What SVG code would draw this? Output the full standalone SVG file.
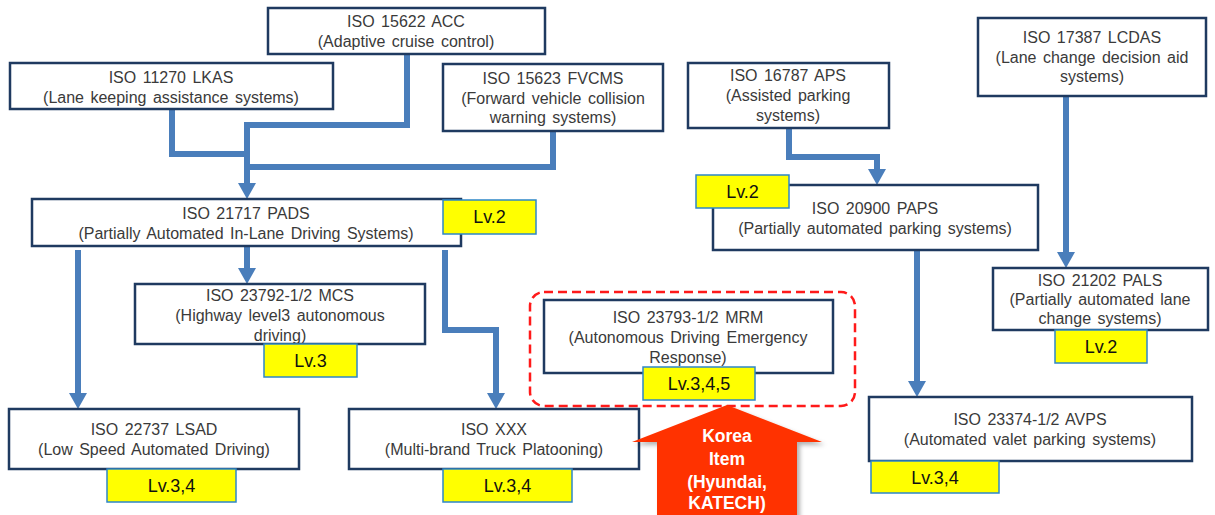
<svg xmlns="http://www.w3.org/2000/svg" width="1215" height="515" viewBox="0 0 1215 515">
  <style>
    .box { fill: #ffffff; stroke: #1f3a60; stroke-width: 2.5; }
    .lv { fill: #ffff00; stroke: #2e86c8; stroke-width: 1.5; }
    .t { font-family: "Liberation Sans", Arial, sans-serif; font-size: 16px; word-spacing: 2px; fill: #3a3a3a; text-anchor: middle; }
    .lvt { font-family: "Liberation Sans", Arial, sans-serif; font-size: 18px; fill: #111111; text-anchor: middle; }
    .wire { fill: none; stroke: #4a7ebb; stroke-width: 6; stroke-linejoin: miter; }
    .kt { font-family: "Liberation Sans", Arial, sans-serif; font-size: 17.5px; font-weight: bold; fill: #ffffff; text-anchor: middle; }
  </style>
  <defs>
    <marker id="head" markerUnits="userSpaceOnUse" markerWidth="16" markerHeight="18" viewBox="0 0 16 18" refX="0" refY="9" orient="auto">
      <path d="M0,0 L16,9 L0,18 z" fill="#4a7ebb"/>
    </marker>
    <filter id="shadow" x="-10%" y="-10%" width="130%" height="130%">
      <feDropShadow dx="3" dy="3" stdDeviation="2" flood-color="#000000" flood-opacity="0.3"/>
    </filter>
  </defs>
  <rect width="1215" height="515" fill="#ffffff"/>

  <!-- connectors -->
  <g id="connectors">
    <path class="wire" d="M407,54 V125 H247 V183" marker-end="url(#head)"/>
    <path class="wire" d="M172,109 V154 H247"/>
    <path class="wire" d="M553,131 V167 H247"/>
    <path class="wire" d="M78,250 V393" marker-end="url(#head)"/>
    <path class="wire" d="M247,246 V268" marker-end="url(#head)"/>
    <path class="wire" d="M445,250 V330 H496 V393" marker-end="url(#head)"/>
    <path class="wire" d="M789,128 V157 H877 V169" marker-end="url(#head)"/>
    <path class="wire" d="M917,250 V381" marker-end="url(#head)"/>
    <path class="wire" d="M1066,96 V252" marker-end="url(#head)"/>
  </g>

  <g id="acc">
    <rect class="box" x="268" y="8" width="277" height="46"/>
    <text class="t" x="406" y="27">ISO 15622 ACC</text>
    <text class="t" x="406" y="47">(Adaptive cruise control)</text>
  </g>

  <g id="lkas">
    <rect class="box" x="10" y="63" width="323" height="46"/>
    <text class="t" x="171" y="83">ISO 11270 LKAS</text>
    <text class="t" x="171" y="103">(Lane keeping assistance systems)</text>
  </g>

  <g id="fvcms">
    <rect class="box" x="443" y="64" width="220" height="67"/>
    <text class="t" x="553" y="84">ISO 15623 FVCMS</text>
    <text class="t" x="553" y="104">(Forward vehicle collision</text>
    <text class="t" x="553" y="123">warning systems)</text>
  </g>

  <g id="aps">
    <rect class="box" x="688" y="63" width="201" height="65"/>
    <text class="t" x="788" y="81">ISO 16787 APS</text>
    <text class="t" x="788" y="101">(Assisted parking</text>
    <text class="t" x="788" y="121">systems)</text>
  </g>

  <g id="lcdas">
    <rect class="box" x="978" y="18" width="228" height="78"/>
    <text class="t" x="1092" y="43">ISO 17387 LCDAS</text>
    <text class="t" x="1092" y="63">(Lane change decision aid</text>
    <text class="t" x="1092" y="82">systems)</text>
  </g>

  <g id="pads">
    <rect class="box" x="32" y="199" width="429" height="47"/>
    <text class="t" x="246" y="219">ISO 21717 PADS</text>
    <text class="t" x="246" y="239">(Partially Automated In-Lane Driving Systems)</text>
    <rect class="lv" x="443" y="200" width="93" height="34"/>
    <text class="lvt" x="489.5" y="223">Lv.2</text>
  </g>

  <g id="paps">
    <rect class="box" x="713" y="185" width="325" height="65"/>
    <text class="t" x="875" y="214">ISO 20900 PAPS</text>
    <text class="t" x="875" y="234">(Partially automated parking systems)</text>
    <rect class="lv" x="696" y="175" width="93" height="33"/>
    <text class="lvt" x="742.5" y="198">Lv.2</text>
  </g>

  <g id="mcs">
    <rect class="box" x="135" y="284" width="290" height="60"/>
    <text class="t" x="280" y="301">ISO 23792-1/2 MCS</text>
    <text class="t" x="280" y="321">(Highway level3 autonomous</text>
    <text class="t" x="280" y="341">driving)</text>
    <rect class="lv" x="264" y="344" width="93" height="33"/>
    <text class="lvt" x="310.5" y="367">Lv.3</text>
  </g>

  <g id="pals">
    <rect class="box" x="993" y="268" width="215" height="62"/>
    <text class="t" x="1100" y="286">ISO 21202 PALS</text>
    <text class="t" x="1100" y="305">(Partially automated lane</text>
    <text class="t" x="1100" y="324">change systems)</text>
    <rect class="lv" x="1055" y="330" width="92" height="33"/>
    <text class="lvt" x="1101" y="353">Lv.2</text>
  </g>

  <g id="mrm-focus">
    <rect x="530" y="292" width="325" height="114" rx="14" ry="14" fill="none" stroke="#ff1a1a" stroke-width="2.5" stroke-dasharray="9 5"/>
  </g>

  <g id="mrm">
    <rect class="box" x="544" y="300" width="289" height="73"/>
    <text class="t" x="688" y="323">ISO 23793-1/2 MRM</text>
    <text class="t" x="688" y="343">(Autonomous Driving Emergency</text>
    <text class="t" x="688" y="363">Response)</text>
    <rect class="lv" x="643" y="367" width="112" height="33"/>
    <text class="lvt" x="699" y="390">Lv.3,4,5</text>
  </g>

  <g id="lsad">
    <rect class="box" x="9" y="409" width="290" height="60"/>
    <text class="t" x="154" y="435">ISO 22737 LSAD</text>
    <text class="t" x="154" y="455">(Low Speed Automated Driving)</text>
    <rect class="lv" x="107" y="469" width="129" height="33"/>
    <text class="lvt" x="171.5" y="492">Lv.3,4</text>
  </g>

  <g id="platooning">
    <rect class="box" x="349" y="409" width="290" height="60"/>
    <text class="t" x="494" y="435">ISO XXX</text>
    <text class="t" x="494" y="455">(Multi-brand Truck Platooning)</text>
    <rect class="lv" x="443" y="469" width="129" height="33"/>
    <text class="lvt" x="507.5" y="492">Lv.3,4</text>
  </g>

  <g id="avps">
    <rect class="box" x="869" y="397" width="323" height="64"/>
    <text class="t" x="1030" y="425">ISO 23374-1/2 AVPS</text>
    <text class="t" x="1030" y="445">(Automated valet parking systems)</text>
    <rect class="lv" x="871" y="461" width="128" height="32"/>
    <text class="lvt" x="935" y="484">Lv.3,4</text>
  </g>

  <g id="korea-item">
    <polygon points="727,405 822,442 797,442 797,520 657,520 657,442 632,442" fill="#ff3300" filter="url(#shadow)"/>
    <text class="kt" x="727" y="442">Korea</text>
    <text class="kt" x="727" y="465">Item</text>
    <text class="kt" x="727" y="488">(Hyundai,</text>
    <text class="kt" x="727" y="509">KATECH)</text>
  </g>
</svg>
